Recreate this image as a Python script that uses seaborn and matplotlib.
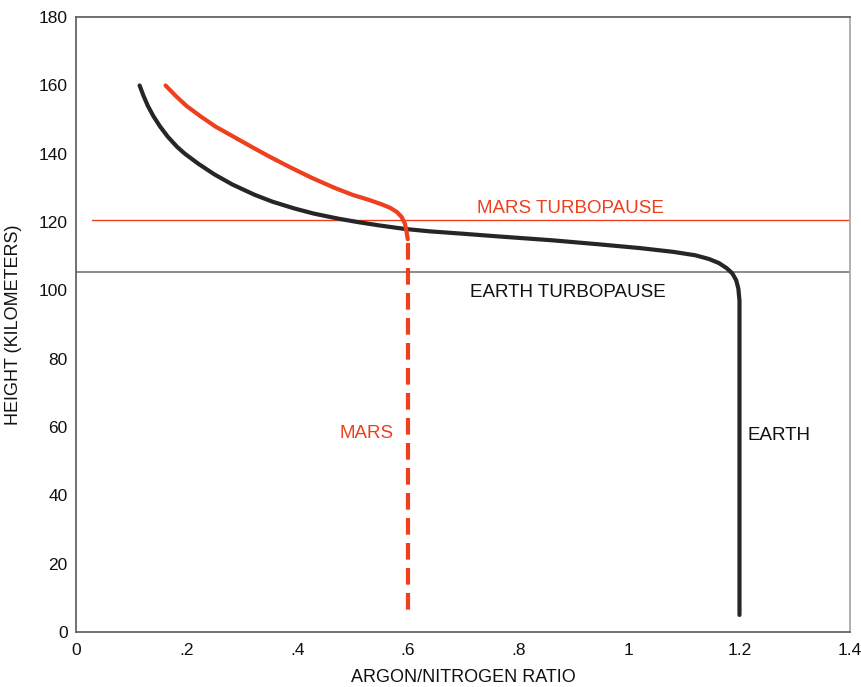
import numpy as np
import pandas as pd
import matplotlib
matplotlib.use("Agg")
from matplotlib import pyplot as plt
import seaborn as sns

# Argon/nitrogen ratio vs height
earth_ratio = [0.115, 0.122, 0.130, 0.140, 0.152, 0.166, 0.183, 0.197, 0.222,
               0.250, 0.283, 0.323, 0.355, 0.395, 0.43, 0.475, 0.51, 0.55,
               0.595, 0.64, 0.70, 0.765, 0.86, 0.946, 1.02, 1.08, 1.12,
               1.145, 1.163, 1.177, 1.187, 1.194, 1.198, 1.2, 1.2, 1.2]
earth_height = [160, 157, 154, 151, 148, 145, 142, 140, 137,
                134, 131, 128, 126, 124, 122.5, 121, 120, 119,
                118, 117.3, 116.6, 115.8, 114.7, 113.5, 112.4, 111.3, 110.3,
                109.2, 108, 106.5, 105, 103, 100.5, 97, 90, 5]

mars_ratio = [0.162, 0.18, 0.20, 0.225, 0.252, 0.285, 0.318, 0.352, 0.388,
              0.426, 0.468, 0.50, 0.53, 0.553, 0.568, 0.58, 0.589, 0.595,
              0.598, 0.6]
mars_height = [160, 157, 154, 151, 148, 145, 142, 139, 136,
               133, 130, 128, 126.5, 125.2, 124.2, 123, 121.5, 119.5,
               117, 115]
mars_low_ratio = [0.6, 0.6]
mars_low_height = [114, 5]

mars_turbopause = 120.5
earth_turbopause = 105.3

x_ticks = [0, 0.2, 0.4, 0.6, 0.8, 1.0, 1.2, 1.4]
x_labels = ["0", ".2", ".4", ".6", ".8", "1", "1.2", "1.4"]
y_ticks = list(range(0, 181, 20))

RED = "#ee3f1f"
BLACK = "#262626"

sns.set_style("white")
plt.rcParams["font.family"] = ["Liberation Sans", "DejaVu Sans"]

fig = plt.figure(figsize=(8.61, 6.87), dpi=100)
ax = fig.add_axes([0.0883, 0.08, 0.899, 0.895])

earth = pd.DataFrame({"ratio": earth_ratio, "height": earth_height})
mars = pd.DataFrame({"ratio": mars_ratio, "height": mars_height})
mars_low = pd.DataFrame({"ratio": mars_low_ratio, "height": mars_low_height})

ax.axhline(mars_turbopause, xmin=0.021, xmax=1, color=RED, lw=1.0)
ax.axhline(earth_turbopause, color="#777777", lw=1.2)

sns.lineplot(data=earth, x="ratio", y="height", sort=False, estimator=None,
             color=BLACK, lw=3, ax=ax)
sns.lineplot(data=mars, x="ratio", y="height", sort=False, estimator=None,
             color=RED, lw=3, ax=ax)
sns.lineplot(data=mars_low, x="ratio", y="height", sort=False, estimator=None,
             color=RED, lw=3, ax=ax, linestyle=(0, (4, 2)))

ax.text(0.895, 124, "MARS TURBOPAUSE", color=RED, fontsize=13.5,
        ha="center", va="center")
ax.text(0.89, 99.4, "EARTH TURBOPAUSE", color="#111111", fontsize=13.5,
        ha="center", va="center")
ax.text(0.575, 58, "MARS", color=RED, fontsize=13.5, ha="right", va="center")
ax.text(1.215, 57.5, "EARTH", color="#111111", fontsize=13.5,
        ha="left", va="center")

ax.set_xlim(0, 1.4)
ax.set_ylim(0, 180)
ax.set_xticks(x_ticks)
ax.set_xticklabels(x_labels)
ax.set_yticks(y_ticks)
ax.tick_params(axis="both", direction="in", length=8, width=1,
               color="#555555", labelsize=12.5, labelcolor="#111111")
ax.tick_params(axis="x", pad=8)
ax.tick_params(axis="y", pad=6)
ax.set_xlabel("ARGON/NITROGEN RATIO", fontsize=13, color="#111111", labelpad=8)
ax.set_ylabel("HEIGHT (KILOMETERS)", fontsize=13, color="#111111", labelpad=12)

for side in ["left", "bottom", "top"]:
    ax.spines[side].set_color("#666666")
    ax.spines[side].set_linewidth(1.3)
ax.spines["right"].set_color("#aaaaaa")
ax.spines["right"].set_linewidth(1.3)

fig.savefig("out.png", dpi=100)
